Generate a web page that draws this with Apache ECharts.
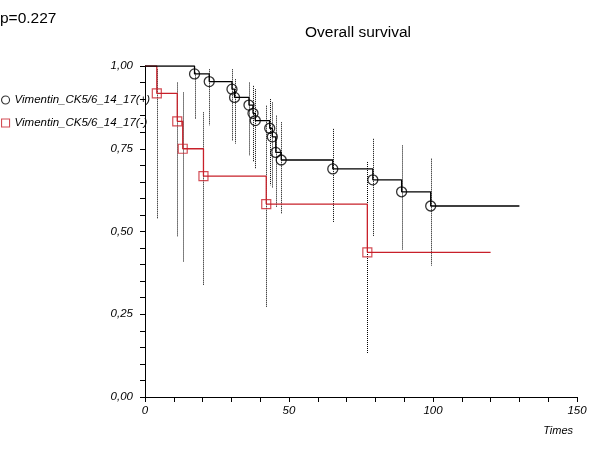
<!DOCTYPE html>
<html>
<head>
<meta charset="utf-8">
<script src="https://cdn.jsdelivr.net/npm/echarts@6/dist/echarts.min.js"></script>
<style>html,body{margin:0;padding:0;background:#fff;}#c{width:600px;height:450px;}</style>
</head>
<body>
<div id="c"></div>
<script>
// Group (+)
var plusName = 'Vimentin_CK5/6_14_17(+)';
var plusTimes = [17.2, 22.3, 30.2, 31.1, 36.1, 37.5, 38.3, 43.3, 44.2, 45.4, 47.3, 65.2, 79.1, 89.1, 99.2];
var plusSurv  = [0.976, 0.953, 0.930, 0.905, 0.882, 0.857, 0.835, 0.812, 0.786, 0.739, 0.716, 0.689, 0.656, 0.620, 0.577];
var plusUpper = [0.98, 0.99, 0.99, 0.96, 0.95, 0.94, 0.93, 0.90, 0.89, 0.85, 0.83, 0.81, 0.78, 0.76, 0.72];
var plusLower = [0.84, 0.82, 0.775, 0.765, 0.73, 0.71, 0.69, 0.64, 0.63, 0.575, 0.555, 0.527, 0.486, 0.444, 0.397];
var plusEnd = 130;
// Group (-)
var minusName = 'Vimentin_CK5/6_14_17(-)';
var minusTimes = [4.1, 11.2, 13.1, 20.3, 42.1, 77.2];
var minusSurv  = [0.917, 0.833, 0.750, 0.667, 0.583, 0.437];
var minusUpper = [0.99, 0.95, 0.92, 0.86, 0.88, 0.71];
var minusLower = [0.54, 0.484, 0.409, 0.338, 0.271, 0.133];
var minusEnd = 120;
// Axis / text
var yTicks = [0, 0.25, 0.5, 0.75, 1];
var xLabelTicks = [0, 50, 100, 150];
var titleText = 'Overall survival';
var pText = 'p=0.227';
var xName = 'Times';

var RED = '#c8202a';
var FONT = '"Liberation Sans", Arial, sans-serif';

function curve(times, surv, end) {
  var d = [[0, 1]];
  for (var i = 0; i < times.length; i++) d.push([times[i], surv[i]]);
  d.push([end, surv[surv.length - 1]]);
  return d;
}
function pts(times, surv) {
  return times.map(function (t, i) { return [t, surv[i]]; });
}
function ci(times, up, lo) {
  return times.map(function (t, i) { return [t, up[i], lo[i]]; });
}
function ciRender(params, api) {
  var a = api.coord([api.value(0), api.value(1)]);
  var b = api.coord([api.value(0), api.value(2)]);
  return {
    type: 'line',
    shape: { x1: Math.round(a[0]) + 0.5, y1: a[1], x2: Math.round(b[0]) + 0.5, y2: b[1] },
    style: { stroke: '#000', lineWidth: 1, lineDash: [1, 1] }
  };
}

var chart = echarts.init(document.getElementById('c'));
chart.setOption({
  animation: false,
  backgroundColor: '#fff',
  title: [
    { text: pText, left: 0, top: 11, padding: 0, textStyle: { fontFamily: FONT, fontSize: 15.5, fontWeight: 'normal', color: '#000' } },
    { text: titleText, left: 358, top: 25, padding: 0, textAlign: 'center', textStyle: { fontFamily: FONT, fontSize: 15.5, fontWeight: 'normal', color: '#000' } }
  ],
  legend: {
    orient: 'vertical', left: 1, top: 94, padding: 0, itemGap: 11, itemWidth: 8, itemHeight: 8,
    data: [
      { name: plusName, itemStyle: { borderWidth: 1.1 } },
      { name: minusName, itemStyle: { borderWidth: 1.1 } }
    ],
    textStyle: { fontFamily: FONT, fontSize: 11.5, fontStyle: 'italic', color: '#000', padding: [0, 0, 0, 0] }
  },
  grid: { left: 145, right: 23, top: 66, bottom: 53, containLabel: false },
  xAxis: {
    type: 'value', min: 0, max: 150, interval: 10,
    name: xName, nameLocation: 'end', nameGap: -4,
    nameTextStyle: { fontFamily: FONT, fontSize: 11, fontStyle: 'italic', color: '#000', align: 'right', verticalAlign: 'top', padding: [28, 0, 0, 0] },
    axisLine: { lineStyle: { color: '#000', width: 1 } },
    axisTick: { length: 5, lineStyle: { color: '#000' } },
    axisLabel: {
      fontFamily: FONT, fontSize: 11.5, fontStyle: 'italic', color: '#000', margin: 8,
      formatter: function (v) { return xLabelTicks.indexOf(v) >= 0 ? String(v) : ''; }
    },
    splitLine: { show: false }
  },
  yAxis: {
    type: 'value', min: 0, max: 1, interval: 0.25,
    axisLine: { show: true, lineStyle: { color: '#000', width: 1 } },
    axisTick: { show: true, length: 5, lineStyle: { color: '#000' } },
    minorTick: { show: true, splitNumber: 5, length: 5, lineStyle: { color: '#000' } },
    axisLabel: {
      fontFamily: FONT, fontSize: 11.5, fontStyle: 'italic', color: '#000', margin: 12,
      formatter: function (v) { return yTicks.indexOf(v) >= 0 ? v.toFixed(2).replace('.', ',') : ''; }
    },
    splitLine: { show: false }
  },
  series: [
    { type: 'custom', name: 'ciPlus', renderItem: ciRender, data: ci(plusTimes, plusUpper, plusLower), z: 1, silent: true },
    { type: 'custom', name: 'ciMinus', renderItem: ciRender, data: ci(minusTimes, minusUpper, minusLower), z: 1, silent: true },
    { type: 'line', name: 'curveMinus', step: 'end', showSymbol: false, data: curve(minusTimes, minusSurv, minusEnd),
      lineStyle: { color: RED, width: 1.3 }, itemStyle: { color: RED }, z: 2 },
    { type: 'line', name: 'curvePlus', step: 'end', showSymbol: false, data: curve(plusTimes, plusSurv, plusEnd),
      lineStyle: { color: '#000', width: 1.3 }, itemStyle: { color: '#000' }, z: 2 },
    { type: 'scatter', name: plusName, symbol: 'circle', symbolSize: 10, data: pts(plusTimes, plusSurv),
      itemStyle: { color: 'rgba(255,255,255,0)', borderColor: '#000', borderWidth: 1.3 }, z: 3 },
    { type: 'scatter', name: minusName, symbol: 'rect', symbolSize: 9, data: pts(minusTimes, minusSurv),
      itemStyle: { color: 'rgba(255,255,255,0)', borderColor: RED, borderWidth: 1.2 }, z: 3 }
  ]
});
</script>
</body>
</html>
